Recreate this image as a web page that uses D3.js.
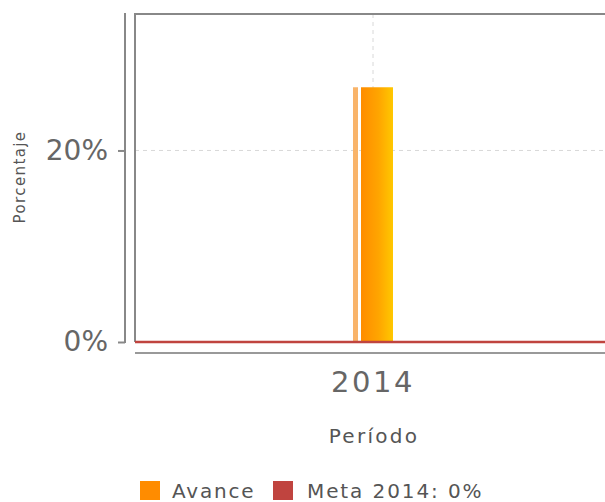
<!DOCTYPE html>
<html>
<head>
<meta charset="utf-8">
<script src="https://cdn.jsdelivr.net/npm/d3@7"></script>
<style>
  body { margin: 0; background: #fff; }
  svg { display: block; font-family: "DejaVu Sans", sans-serif; }
</style>
</head>
<body>
<div id="chart"></div>
<script>
(function () {
    // data
    var periods = ["2014"];
    var avance = [26.6];
    var meta = [0];
    var yTicks = [0, 20];
    var yMax = 34.25;
    var legendLabels = ["Avance", "Meta 2014: 0%"];
    var legendColors = ["#ff8c00", "#c0443f"];

    var width = 605, height = 502;
    var plot = {left: 135, right: 611, top: 14, bottom: 342};

    var svg = d3.select('#chart')
        .append('svg')
        .attr('width', width)
        .attr('height', height);

    var defs = svg.append("defs");
    var grad = defs.append("linearGradient")
        .attr("id", "barGrad")
        .attr("x1", "0%").attr("x2", "100%")
        .attr("y1", "0%").attr("y2", "0%");
    grad.append("stop").attr("offset", "0%").attr("stop-color", "#ff8c00");
    grad.append("stop").attr("offset", "55%").attr("stop-color", "#ffa500");
    grad.append("stop").attr("offset", "100%").attr("stop-color", "#ffc800");

    var x = d3.scaleBand()
        .domain(periods)
        .range([plot.left, plot.right])
        .padding(0.845);

    var y = d3.scaleLinear()
        .domain([0, yMax])
        .range([plot.bottom, plot.top]);

    // grid
    svg.append("g")
        .selectAll("line")
        .data(yTicks.filter(d => d > 0))
        .join("line")
        .attr("x1", plot.left).attr("x2", plot.right)
        .attr("y1", d => y(d)).attr("y2", d => y(d))
        .attr("stroke", "#d8d8d8")
        .attr("stroke-dasharray", "4,4");

    svg.append("g")
        .selectAll("line")
        .data(periods)
        .join("line")
        .attr("x1", d => x(d) + x.bandwidth() / 2)
        .attr("x2", d => x(d) + x.bandwidth() / 2)
        .attr("y1", plot.top).attr("y2", plot.bottom)
        .attr("stroke", "#d8d8d8")
        .attr("stroke-dasharray", "4,4");

    // plot frame
    svg.append("line")
        .attr("x1", plot.left).attr("x2", plot.right)
        .attr("y1", plot.top).attr("y2", plot.top)
        .attr("stroke", "#888").attr("stroke-width", 2);
    svg.append("line")
        .attr("x1", plot.left).attr("x2", plot.left)
        .attr("y1", plot.top - 1).attr("y2", plot.bottom)
        .attr("stroke", "#888").attr("stroke-width", 2);
    svg.append("line")
        .attr("x1", plot.left).attr("x2", plot.right)
        .attr("y1", plot.bottom + 11).attr("y2", plot.bottom + 11)
        .attr("stroke", "#999").attr("stroke-width", 2);

    // bars
    var bars = svg.append("g")
        .selectAll("g")
        .data(periods.map((p, i) => ({p: p, v: avance[i]})))
        .join("g");

    bars.append("rect")
        .attr("x", d => x(d.p))
        .attr("y", d => y(d.v))
        .attr("width", 5)
        .attr("height", d => y(0) - y(d.v))
        .attr("fill", "#f9b46a");

    bars.append("rect")
        .attr("x", d => x(d.p) + 8)
        .attr("y", d => y(d.v))
        .attr("width", x.bandwidth() - 8)
        .attr("height", d => y(0) - y(d.v))
        .attr("fill", "url(#barGrad)");

    // meta line
    svg.append("g")
        .selectAll("line")
        .data(meta)
        .join("line")
        .attr("x1", plot.left).attr("x2", plot.right)
        .attr("y1", d => y(d)).attr("y2", d => y(d))
        .attr("stroke", "#c0443f")
        .attr("stroke-width", 2.5);

    // y axis
    var yAxis = svg.append("g")
        .attr("transform", "translate(125,0)")
        .call(d3.axisLeft(y)
            .tickValues(yTicks)
            .tickSize(7)
            .tickSizeOuter(0)
            .tickPadding(10)
            .tickFormat(d => d + "%"));
    yAxis.select(".domain")
        .attr("stroke", "#888").attr("stroke-width", 2)
        .attr("d", `M0,${plot.top - 1}V${plot.bottom + 1}`);
    yAxis.selectAll(".tick line").attr("stroke", "#888").attr("stroke-width", 2);
    yAxis.selectAll(".tick text")
        .attr("font-size", 28)
        .attr("font-family", "DejaVu Sans")
        .attr("fill", "#666");

    // x labels
    svg.append("g")
        .selectAll("text")
        .data(periods)
        .join("text")
        .attr("x", d => x(d) + x.bandwidth() / 2)
        .attr("y", 392)
        .attr("text-anchor", "middle")
        .attr("font-size", 29)
        .attr("letter-spacing", 2.5)
        .attr("fill", "#666")
        .text(d => d);

    svg.append("text")
        .attr("x", 374)
        .attr("y", 443)
        .attr("text-anchor", "middle")
        .attr("font-size", 20)
        .attr("letter-spacing", 2.3)
        .attr("fill", "#555")
        .text("Período");

    svg.append("text")
        .attr("transform", "translate(25,177) rotate(-90)")
        .attr("text-anchor", "middle")
        .attr("font-size", 15)
        .attr("letter-spacing", 1.4)
        .attr("fill", "#555")
        .text("Porcentaje");

    // legend
    var legendX = [140, 273];
    var leg = svg.append("g")
        .selectAll("g")
        .data(legendLabels)
        .join("g")
        .attr("transform", (d, i) => `translate(${legendX[i]},481)`);
    leg.append("rect")
        .attr("width", 20).attr("height", 19)
        .attr("fill", (d, i) => legendColors[i]);
    leg.append("text")
        .attr("x", (d, i) => i === 0 ? 32 : 34)
        .attr("y", 17)
        .attr("font-size", 20)
        .attr("letter-spacing", (d, i) => i === 0 ? 1.8 : 1.9)
        .attr("fill", "#555")
        .text(d => d);
}());
</script>
</body>
</html>
